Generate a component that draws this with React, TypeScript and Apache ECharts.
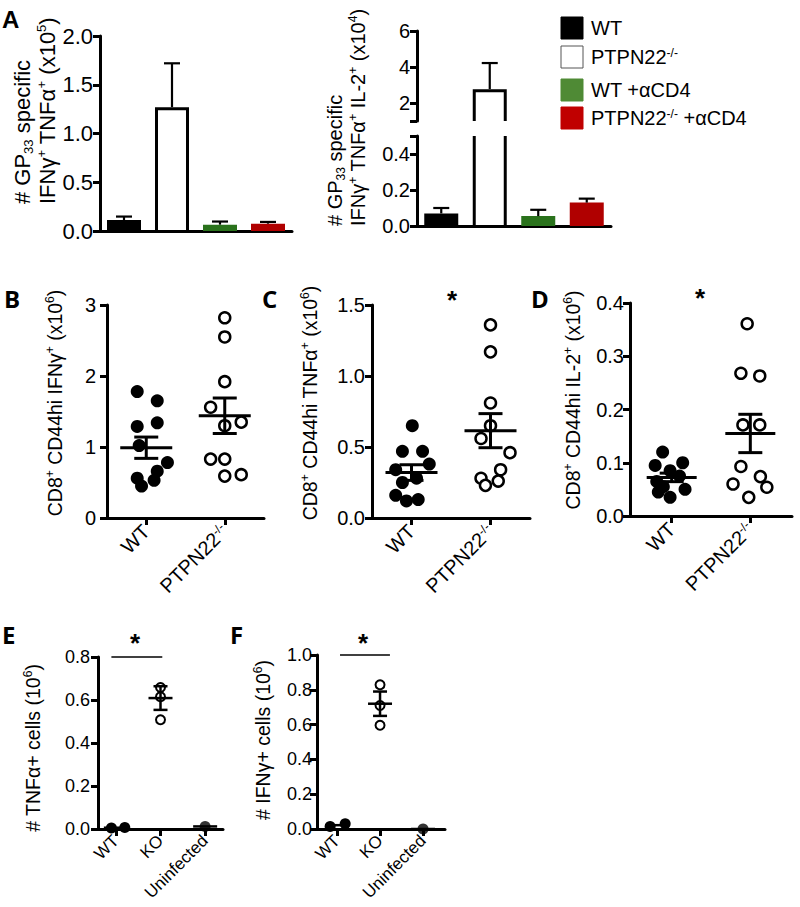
import React, { useEffect, useRef } from 'react';
import * as echarts from 'echarts';

const FONT = 'Liberation Sans, Arial, sans-serif';
const LETTER_FONT = 'Open Sans, Liberation Sans, sans-serif';

// ---------- Panel A (bars, mean + upper SEM) ----------
const groupsA = ['WT', 'PTPN22-/-', 'WT +αCD4', 'PTPN22-/- +αCD4'];
const barColorsA = ['#000000', '#ffffff', '#2a721c', '#b00000'];
const legendColorsA = ['#000000', '#ffffff', '#4f8a35', '#c00000'];
const aLeftMean = [0.113, 1.27, 0.065, 0.075];
const aLeftErr = [0.035, 0.45, 0.032, 0.018];
const aLeftTicks = [0, 0.5, 1, 1.5, 2];
const aRightMean = [0.07, 2.77, 0.055, 0.13];
const aRightErr = [0.03, 1.45, 0.035, 0.022];
const aRightUpperRange = [1, 6];
const aRightUpperLabels = [2, 4, 6];
const aRightLowerRange = [0, 0.5];
const aRightLowerLabels = [0, 0.2, 0.4];

// ---------- Panels B, C, D (dot plots) ----------
const catsBCD = ['WT', 'PTPN22-/-'];
const bWT = [1.78, 1.65, 1.29, 1.34, 1.02, 0.78, 0.66, 0.56, 0.45, 0.53];
const bWTx = [-0.115, 0.14, -0.115, 0.14, -0.09, 0.27, 0.14, -0.115, -0.06, 0.1];
const bKO = [2.82, 2.55, 1.92, 1.56, 1.35, 1.3, 0.83, 0.83, 0.61, 0.59];
const bKOx = [0, 0, 0, -0.18, 0.21, 0, -0.18, 0, 0.21, 0];
const bMean = [0.99, 1.44];
const bSem = [0.15, 0.25];

const cWT = [0.65, 0.47, 0.47, 0.34, 0.38, 0.28, 0.25, 0.16, 0.13, 0.12];
const cWTx = [0.01, -0.115, 0.14, -0.2, 0.225, 0.064, -0.115, -0.2, 0.085, -0.064];
const cKO = [1.36, 1.17, 0.81, 0.65, 0.56, 0.46, 0.34, 0.28, 0.26, 0.23];
const cKOx = [0, 0, 0, 0, -0.12, 0.247, 0.128, -0.12, 0.098, -0.064];
const cMean = [0.32, 0.615];
const cSem = [0.055, 0.12];

const dWT = [0.12, 0.1, 0.095, 0.085, 0.075, 0.065, 0.055, 0.05, 0.045, 0.035];
const dWTx = [-0.115, 0.14, -0.21, -0.02, 0.1, -0.19, -0.106, 0.17, -0.17, -0.02];
const dKO = [0.361, 0.268, 0.263, 0.171, 0.171, 0.093, 0.074, 0.06, 0.054, 0.035];
const dKOx = [-0.04, -0.12, 0.12, -0.094, 0.12, -0.12, 0.128, -0.22, 0.21, -0.02];
const dMean = [0.0725, 0.155];
const dSem = [0.008, 0.036];

// ---------- Panels E, F ----------
const catsEF = ['WT', 'KO', 'Uninfected'];
const eWT = [0.005, 0.007];
const eWTx = [-0.1, 0.2];
const eKO = [0.658, 0.615, 0.508];
const eKOx = [0, 0, 0];
const eUn = [0.012];
const eUnx = [0];
const eMean = [0.006, 0.609, 0.012];
const eSem = [0, 0.055, 0];
const sigE = { from: 0.9, to: 2.04, y: 0.8 };

const fWT = [0.015, 0.03];
const fWTx = [-0.16, 0.19];
const fKO = [0.829, 0.71, 0.596];
const fKOx = [0, 0, 0];
const fUn = [0.0];
const fUnx = [0];
const fMean = [0.022, 0.72, 0.0];
const fSem = [0, 0.07, 0];
const sigF = { from: 1.07, to: 2.23, y: 1.0 };

// ---------- helpers ----------
const supify = (s: string) =>
  s
    .split('-/-')
    .map((p) => (p ? `{n|${p}}` : ''))
    .join('{sup|-/-}');

const AXC = '#000';

function yAxisDef(gridIndex: number, min: number, max: number, interval: number | null, fs: number, margin: number, digits: number, extra: any = {}) {
  const ax: any = {
    type: 'value',
    gridIndex,
    min,
    max,
    axisLine: { show: true, onZero: false, lineStyle: { color: AXC, width: 3 } },
    axisTick: { show: true, length: 7, lineStyle: { color: AXC, width: 3 } },
    axisLabel: {
      color: AXC,
      fontSize: fs,
      fontFamily: FONT,
      margin,
      formatter: (v: number) => v.toFixed(digits),
    },
    splitLine: { show: false },
  };
  if (interval != null) ax.interval = interval;
  if (extra.tickValues) ax.axisTick.customValues = extra.tickValues;
  if (extra.labelValues) ax.axisLabel.customValues = extra.labelValues;
  return ax;
}

function xDotAxis(gridIndex: number, min: number, max: number, cats: string[], fs: number, margin: number) {
  const vals = cats.map((_, i) => i + 1);
  const sup = Math.round(fs * 0.6);
  return {
    type: 'value',
    gridIndex,
    min,
    max,
    axisLine: { show: true, onZero: false, lineStyle: { color: AXC, width: 3 } },
    axisTick: { show: true, length: 7, customValues: vals, lineStyle: { color: AXC, width: 3 } },
    axisLabel: {
      customValues: vals,
      rotate: 45,
      margin,
      color: AXC,
      fontSize: fs,
      fontFamily: FONT,
      formatter: (v: number) => supify(cats[Math.round(v) - 1] || ''),
      rich: {
        n: { fontSize: fs, fontFamily: FONT, color: AXC },
        sup: { fontSize: sup, fontFamily: FONT, color: AXC, verticalAlign: 'top', lineHeight: sup },
      },
    },
    splitLine: { show: false },
  };
}

const meanSemRender = (halfMean: number, halfCap: number, lw: number) => (params: any, api: any) => {
  const x = api.value(0);
  const m = api.value(1);
  const s = api.value(2);
  const pm = api.coord([x, m]);
  const style = { stroke: '#000', lineWidth: lw, fill: 'none' };
  const children: any[] = [
    { type: 'line', shape: { x1: pm[0] - halfMean, y1: pm[1], x2: pm[0] + halfMean, y2: pm[1] }, style },
  ];
  if (s > 0) {
    const pt = api.coord([x, m + s]);
    const pb = api.coord([x, m - s]);
    children.push({ type: 'line', shape: { x1: pm[0], y1: pt[1], x2: pm[0], y2: pb[1] }, style });
    children.push({ type: 'line', shape: { x1: pm[0] - halfCap, y1: pt[1], x2: pm[0] + halfCap, y2: pt[1] }, style });
    children.push({ type: 'line', shape: { x1: pm[0] - halfCap, y1: pb[1], x2: pm[0] + halfCap, y2: pb[1] }, style });
  }
  return { type: 'group', children };
};

const barRender = (yMin: number, yMax: number) => (params: any, api: any) => {
  const i = api.value(0);
  const v = api.value(1);
  const e = api.value(2);
  const color = barColorsA[params.dataIndex];
  const lo = Math.max(yMin, 0);
  const hi = Math.min(v, yMax);
  const w = 34;
  const children: any[] = [];
  if (hi > lo) {
    const pLo = api.coord([i, lo]);
    const pHi = api.coord([i, hi]);
    const cx = pLo[0];
    if (color === '#ffffff') {
      const x0 = cx - w / 2 + 1.5;
      const x1 = cx + w / 2 - 1.5;
      const yb = pLo[1];
      const st = { stroke: '#000', lineWidth: 3, fill: 'none' };
      if (v <= yMax) {
        const yt = pHi[1] + 1.5;
        children.push({ type: 'polyline', shape: { points: [[x0, yb], [x0, yt], [x1, yt], [x1, yb]] }, style: st });
      } else {
        children.push({ type: 'line', shape: { x1: x0, y1: yb, x2: x0, y2: pHi[1] }, style: st });
        children.push({ type: 'line', shape: { x1: x1, y1: yb, x2: x1, y2: pHi[1] }, style: st });
      }
    } else {
      children.push({
        type: 'rect',
        shape: { x: cx - w / 2, y: pHi[1], width: w, height: pLo[1] - pHi[1] },
        style: { fill: color },
      });
    }
  }
  if (v >= yMin && v <= yMax && e > 0) {
    const p1 = api.coord([i, v]);
    const p2 = api.coord([i, v + e]);
    const st = { stroke: '#000', lineWidth: 2.2, fill: 'none' };
    children.push({ type: 'line', shape: { x1: p1[0], y1: p1[1], x2: p2[0], y2: p2[1] }, style: st });
    children.push({ type: 'line', shape: { x1: p2[0] - 8, y1: p2[1], x2: p2[0] + 8, y2: p2[1] }, style: st });
  }
  return { type: 'group', children };
};

function dotSeries(gi: number, wt: number[], wtx: number[], ko: number[], kox: number[], size: number, bw: number) {
  return [
    {
      type: 'scatter',
      xAxisIndex: gi,
      yAxisIndex: gi,
      symbol: 'circle',
      symbolSize: size + 1,
      itemStyle: { color: '#000', opacity: 1 },
      data: wt.map((v, k) => [1 + wtx[k], v]),
      z: 3,
    },
    {
      type: 'scatter',
      xAxisIndex: gi,
      yAxisIndex: gi,
      symbol: 'circle',
      symbolSize: size - 1,
      itemStyle: { color: '#fff', borderColor: '#000', borderWidth: bw, opacity: 1 },
      data: ko.map((v, k) => [2 + kox[k], v]),
      z: 3,
    },
  ];
}

function meanSeries(gi: number, means: number[], sems: number[], hm: number, hc: number, lw: number) {
  return {
    type: 'custom',
    xAxisIndex: gi,
    yAxisIndex: gi,
    renderItem: meanSemRender(hm, hc, lw),
    data: means.map((m, k) => [k + 1, m, sems[k]]),
    z: 5,
  };
}

function richTitle(fs: number, lh: number) {
  const sub = Math.round(fs * 0.6);
  return {
    n: { fontSize: fs, fontFamily: FONT, fill: '#000', lineHeight: lh },
    sup: { fontSize: sub, fontFamily: FONT, fill: '#000', verticalAlign: 'top', lineHeight: sub + 2 },
    sub: { fontSize: sub, fontFamily: FONT, fill: '#000', verticalAlign: 'bottom', lineHeight: sub + 2 },
  };
}

function vTitle(text: string, x: number, y: number, fs: number, lh: number, align: string, vAlign: string) {
  return {
    type: 'text',
    x,
    y,
    rotation: Math.PI / 2,
    style: { text, rich: richTitle(fs, lh), fontSize: fs, fontFamily: FONT, fill: '#000', align, verticalAlign: vAlign },
  };
}

function letter(t: string, x: number, y: number, fam: string) {
  return {
    type: 'text',
    x,
    y,
    style: { text: t, fontSize: 24, fontWeight: 'bold', fontFamily: fam, fill: '#000', align: 'left', verticalAlign: 'top' },
  };
}

function star(x: number, y: number) {
  return {
    type: 'text',
    x,
    y,
    style: { text: '*', fontSize: 26, fontWeight: 'bold', fontFamily: FONT, fill: '#000', align: 'center', verticalAlign: 'top' },
  };
}

function sigLine(gi: number, s: { from: number; to: number; y: number }) {
  return {
    type: 'line',
    xAxisIndex: gi,
    yAxisIndex: gi,
    symbol: 'none',
    clip: false,
    lineStyle: { color: '#000', width: 1.3 },
    data: [
      [s.from, s.y],
      [s.to, s.y],
    ],
  };
}

function buildOption() {
  const grids = [
    { left: 100, top: 36, width: 192, height: 195 }, // A left
    { left: 417, top: 31, width: 194, height: 90 }, // A right upper
    { left: 417, top: 136, width: 194, height: 90 }, // A right lower
    { left: 107, top: 305, width: 157, height: 213 }, // B
    { left: 372, top: 305, width: 158, height: 213 }, // C
    { left: 630, top: 303, width: 162, height: 213 }, // D
    { left: 98, top: 657, width: 125, height: 172 }, // E
    { left: 317, top: 655, width: 128, height: 174 }, // F
  ].map((g) => ({ ...g, outerBoundsMode: 'none', containLabel: false }));

  const catAxis = (gi: number, show: boolean) => ({
    type: 'category',
    gridIndex: gi,
    data: groupsA,
    show,
    axisLine: { show: true, onZero: false, lineStyle: { color: AXC, width: 3 } },
    axisTick: { show: false },
    axisLabel: { show: false },
    splitLine: { show: false },
  });

  const xAxis = [
    catAxis(0, true),
    catAxis(1, false),
    catAxis(2, true),
    xDotAxis(3, 0.5, 2.5, catsBCD, 20, 10),
    xDotAxis(4, 0.5, 2.5, catsBCD, 20, 10),
    xDotAxis(5, 0.47, 2.53, catsBCD, 20, 10),
    xDotAxis(6, 0.6, 3.4, catsEF, 17, 9),
    xDotAxis(7, 0.535, 3.51, catsEF, 17, 9),
  ];

  const yAxis = [
    yAxisDef(0, aLeftTicks[0], aLeftTicks[aLeftTicks.length - 1], 0.5, 22, 7, 1),
    yAxisDef(1, aRightUpperRange[0], aRightUpperRange[1], null, 20, 7, 0, {
      tickValues: [aRightUpperRange[0], ...aRightUpperLabels],
      labelValues: aRightUpperLabels,
    }),
    yAxisDef(2, aRightLowerRange[0], aRightLowerRange[1], null, 20, 7, 1, {
      tickValues: [...aRightLowerLabels, aRightLowerRange[1]],
      labelValues: aRightLowerLabels,
    }),
    yAxisDef(3, 0, 3, 1, 20, 11, 0),
    yAxisDef(4, 0, 1.5, 0.5, 20, 7, 1),
    yAxisDef(5, 0, 0.4, 0.1, 20, 6, 1),
    yAxisDef(6, 0, 0.8, 0.2, 18, 8, 1),
    yAxisDef(7, 0, 1.0, 0.2, 18, 5, 1),
  ];

  const barData = (means: number[], errs: number[]) => means.map((m, k) => [k, m, errs[k]]);

  const series: any[] = [
    { type: 'custom', xAxisIndex: 0, yAxisIndex: 0, renderItem: barRender(0, 2), data: barData(aLeftMean, aLeftErr) },
    {
      type: 'custom',
      xAxisIndex: 1,
      yAxisIndex: 1,
      renderItem: barRender(aRightUpperRange[0], aRightUpperRange[1]),
      data: barData(aRightMean, aRightErr),
    },
    {
      type: 'custom',
      xAxisIndex: 2,
      yAxisIndex: 2,
      renderItem: barRender(aRightLowerRange[0], aRightLowerRange[1]),
      data: barData(aRightMean, aRightErr),
    },
    ...dotSeries(3, bWT, bWTx, bKO, bKOx, 12, 2.5),
    meanSeries(3, bMean, bSem, 26, 12, 3),
    ...dotSeries(4, cWT, cWTx, cKO, cKOx, 12, 2.5),
    meanSeries(4, cMean, cSem, 26, 12, 3),
    ...dotSeries(5, dWT, dWTx, dKO, dKOx, 12, 2.5),
    meanSeries(5, dMean, dSem, 25, 12, 3),
    // E
    ...dotSeries(6, eWT, eWTx, eKO, eKOx, 10, 2),
    {
      type: 'scatter',
      xAxisIndex: 6,
      yAxisIndex: 6,
      symbol: 'circle',
      symbolSize: 11,
      itemStyle: { color: '#000' },
      data: eUn.map((v, k) => [3 + eUnx[k], v]),
      z: 3,
    },
    meanSeries(6, eMean, eSem, 12, 7, 2.5),
    sigLine(6, sigE),
    // F
    ...dotSeries(7, fWT, fWTx, fKO, fKOx, 10, 2),
    {
      type: 'scatter',
      xAxisIndex: 7,
      yAxisIndex: 7,
      symbol: 'circle',
      symbolSize: 11,
      itemStyle: { color: '#000' },
      data: fUn.map((v, k) => [3 + fUnx[k], v]),
      z: 3,
    },
    meanSeries(7, fMean, fSem, 12, 7, 2.5),
    sigLine(7, sigF),
  ];

  // legend (panel A)
  const legendRows = [17, 46, 79, 107];
  const legendEls: any[] = [];
  groupsA.forEach((g, k) => {
    legendEls.push({
      type: 'rect',
      shape: { x: 561, y: legendRows[k], width: 22, height: 22 },
      style: { fill: legendColorsA[k], stroke: k === 1 ? '#555' : legendColorsA[k], lineWidth: 1 },
    });
    legendEls.push({
      type: 'text',
      x: 591,
      y: legendRows[k] + 11,
      style: {
        text: supify(g),
        rich: {
          n: { fontSize: 20, fontFamily: FONT, fill: '#000' },
          sup: { fontSize: 12, fontFamily: FONT, fill: '#000', verticalAlign: 'top', lineHeight: 12 },
        },
        fontSize: 20,
        fontFamily: FONT,
        fill: '#000',
        align: 'left',
        verticalAlign: 'middle',
      },
    });
  });

  const graphic: any[] = [
    letter('A', 2, 7, FONT),
    letter('B', 4, 286, LETTER_FONT),
    letter('C', 262, 286, LETTER_FONT),
    letter('D', 531, 286, LETTER_FONT),
    letter('E', 2, 622, LETTER_FONT),
    letter('F', 230, 622, LETTER_FONT),
    vTitle('{n|# GP}{sub|33}{n| specific}\n{n|IFNγ}{sup|+}{n| TNFα}{sup|+}{n| (x10}{sup|5}{n|)}', 9.5, 204, 22, 25, 'left', 'top'),
    vTitle('{n|# GP}{sub|33}{n| specific}\n{n|IFNγ}{sup|+}{n| TNFα}{sup|+}{n| IL-2}{sup|+}{n| (x10}{sup|4}{n|)}', 323.5, 226, 20, 23, 'left', 'top'),
    vTitle('{n|CD8}{sup|+}{n| CD44hi IFNγ}{sup|+}{n| (x10}{sup|6}{n|)}', 55, 403, 19.5, 22, 'center', 'middle'),
    vTitle('{n|CD8}{sup|+}{n| CD44hi TNFα}{sup|+}{n| (x10}{sup|6}{n|)}', 310, 403, 19.5, 22, 'center', 'middle'),
    vTitle('{n|CD8}{sup|+}{n| CD44hi IL-2}{sup|+}{n| (x10}{sup|6}{n|)}', 573, 400, 19.5, 22, 'center', 'middle'),
    vTitle('{n|# TNFα+ cells (10}{sup|6}{n|)}', 33, 748, 19.5, 22, 'center', 'middle'),
    vTitle('{n|# IFNγ+ cells (10}{sup|6}{n|)}', 263, 740, 19.5, 22, 'center', 'middle'),
    star(452, 287),
    star(700, 285),
    star(135, 630),
    star(363, 630),
    ...legendEls,
  ];

  return {
    animation: false,
    backgroundColor: '#ffffff',
    grid: grids,
    xAxis,
    yAxis,
    series,
    graphic,
  };
}

export default function App() {
  const ref = useRef<HTMLDivElement>(null);
  useEffect(() => {
    if (!ref.current) return;
    const chart = echarts.init(ref.current, null, { renderer: 'svg' });
    chart.setOption(buildOption() as any);
    return () => chart.dispose();
  }, []);
  return (
    <div
      ref={ref}
      style={{ position: 'fixed', left: 0, top: 0, width: 800, height: 907, background: '#fff' }}
    />
  );
}
